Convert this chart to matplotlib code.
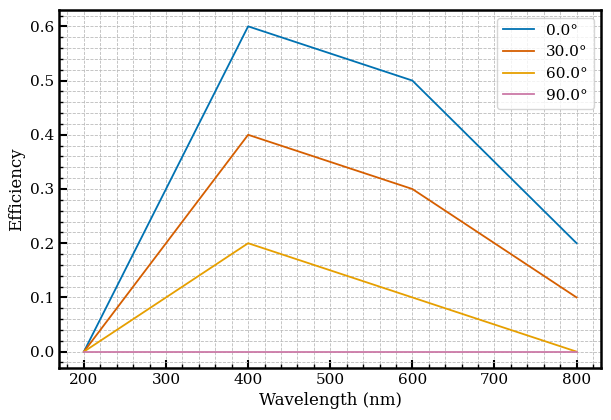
import numpy as np
import matplotlib
matplotlib.use("Agg")
import matplotlib.pyplot as plt
from matplotlib.ticker import AutoMinorLocator

# Datos
longitudes = [200, 400, 600, 800]  # nm
angulos = [0.0, 30.0, 60.0, 90.0]
eficiencias = {
    0.0: [0.0, 0.6, 0.5, 0.2],
    30.0: [0.0, 0.4, 0.3, 0.1],
    60.0: [0.0, 0.2, 0.1, 0.0],
    90.0: [0.0, 0.0, 0.0, 0.0],
}
colores = ['#0072B2', '#D55E00', '#E69F00', '#CC79A7']

plt.rcParams['font.family'] = 'DejaVu Serif'

fig, ax = plt.subplots(figsize=(6.11, 4.2), dpi=100)
fig.subplots_adjust(left=0.097, right=0.984, top=0.976, bottom=0.124)

for ang, col in zip(angulos, colores):
    ax.plot(longitudes, eficiencias[ang], color=col, lw=1.3, label=f'{ang}\u00b0')

ax.set_xlabel('Wavelength (nm)', fontsize=12)
ax.set_ylabel('Efficiency', fontsize=12)

ax.xaxis.set_minor_locator(AutoMinorLocator(5))
ax.yaxis.set_minor_locator(AutoMinorLocator(5))
ax.tick_params(which='major', direction='in', length=6, width=1.5, labelsize=11)
ax.tick_params(which='minor', direction='in', length=3, width=1.0)
ax.grid(True, which='major', ls='--', color='#bbbbbb', lw=0.6)
ax.grid(True, which='minor', ls='--', color='#bbbbbb', lw=0.6)
for s in ax.spines.values():
    s.set_linewidth(1.8)

ax.legend(fontsize=11, loc='upper right')

fig.savefig('out.png', dpi=100)
